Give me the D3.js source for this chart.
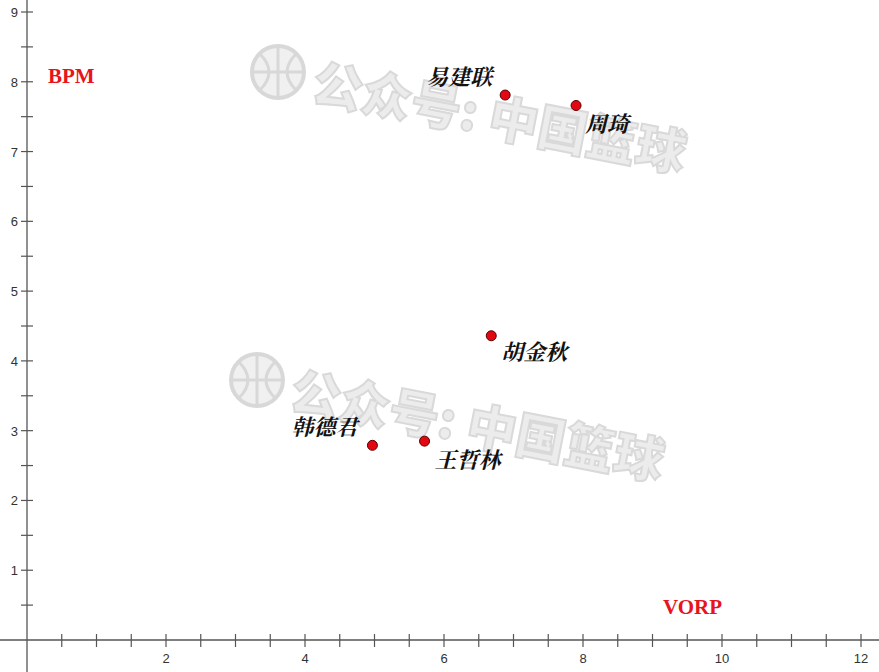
<!DOCTYPE html>
<html><head><meta charset="utf-8">
<script src="https://cdn.jsdelivr.net/npm/d3@7"></script>
<style>body{margin:0;background:#fff}svg{display:block}</style>
</head><body>
<svg id="c" width="879" height="672"></svg>
<script>
const players = ["易建联","周琦","胡金秋","韩德君","王哲林"];
const vorp = [6.88, 7.90, 6.68, 4.97, 5.72];
const bpm = [7.81, 7.66, 4.36, 2.79, 2.85];
const labelDx = [-79, 9, 10, -81, 10];
const labelDy = [-10, 26, 24, -10, 27];
const xTicks = [2,4,6,8,10,12];
const yTicks = [1,2,3,4,5,6,7,8,9];

const svg = d3.select("#c");
const W = 879, H = 672;
const x = d3.scaleLinear().domain([0,12]).range([27, 861]);
const y = d3.scaleLinear().domain([0,9]).range([640, 12]);

function wm(cx, cy, tx, ty){
  const g = svg.append("g");
  g.append("circle").attr("cx",cx).attr("cy",cy).attr("r",26)
    .attr("fill","#f0f0f0").attr("stroke","#d8d8d8").attr("stroke-width",4);
  g.append("path").attr("d",`M${cx-26},${cy} L${cx+26},${cy} M${cx},${cy-26} L${cx},${cy+26} M${cx-18},${cy-18} Q${cx},${cy} ${cx-18},${cy+18} M${cx+18},${cy-18} Q${cx},${cy} ${cx+18},${cy+18}`)
    .attr("fill","none").attr("stroke","#d8d8d8").attr("stroke-width",3);
  g.append("text").attr("transform",`translate(${tx},${ty}) rotate(11)`)
    .attr("font-family","Noto Sans CJK SC").attr("font-weight","900")
    .attr("font-size",50).attr("fill","#ececec").attr("stroke","#d9d9d9").attr("stroke-width",2)
    .text("公众号: 中国篮球");
}
wm(278, 72, 310, 100);
wm(257, 380, 288, 408);

const axisColor = "#555";
svg.append("line").attr("x1",0).attr("x2",W).attr("y1",y(0)).attr("y2",y(0))
  .attr("stroke",axisColor).attr("stroke-width",1.3);
svg.append("line").attr("x1",x(0)).attr("x2",x(0)).attr("y1",0).attr("y2",H)
  .attr("stroke",axisColor).attr("stroke-width",1.3);

const xMinor = d3.range(0.5, 12.6, 0.5);
svg.selectAll(".xt").data(xMinor).join("line")
  .attr("x1",d=>x(d)).attr("x2",d=>x(d)).attr("y1",y(0)-6).attr("y2",y(0)+7)
  .attr("stroke",axisColor).attr("stroke-width",1.2);
const yMinor = d3.range(0.5, 9.6, 0.5);
svg.selectAll(".yt").data(yMinor).join("line")
  .attr("y1",d=>y(d)).attr("y2",d=>y(d)).attr("x1",x(0)-6).attr("x2",x(0)+6)
  .attr("stroke",axisColor).attr("stroke-width",1.2);

svg.selectAll(".xl").data(xTicks).join("text")
  .attr("x",d=>x(d)).attr("y",y(0)+23).attr("text-anchor","middle")
  .attr("font-family","Liberation Sans, Arial").attr("font-size",13).attr("fill","#333")
  .text(d=>d);
svg.selectAll(".yl").data(yTicks).join("text")
  .attr("x",x(0)-9).attr("y",d=>y(d)+5).attr("text-anchor","end")
  .attr("font-family","Liberation Sans, Arial").attr("font-size",13).attr("fill","#333")
  .text(d=>d);

svg.append("text").attr("x",48).attr("y",83).attr("font-family","Liberation Serif, Times New Roman")
  .attr("font-weight","bold").attr("font-size",21).attr("fill","#e8141c").text("BPM");
svg.append("text").attr("x",663).attr("y",614).attr("font-family","Liberation Serif, Times New Roman")
  .attr("font-weight","bold").attr("font-size",21).attr("fill","#e8141c").text("VORP");

const data = players.map((p,i)=>({p, vx:vorp[i], b:bpm[i], dx:labelDx[i], dy:labelDy[i]}));
svg.selectAll(".pt").data(data).join("circle")
  .attr("cx",d=>x(d.vx)).attr("cy",d=>y(d.b)).attr("r",5)
  .attr("fill","#e30613").attr("stroke","#5a0000").attr("stroke-width",1);
svg.selectAll(".lab").data(data).join("text")
  .attr("x",d=>x(d.vx)+d.dx).attr("y",d=>y(d.b)+d.dy)
  .attr("font-family","Noto Serif CJK SC, Noto Sans CJK SC").attr("font-style","italic").attr("font-weight","bold")
  .attr("font-size",22).attr("fill","#111")
  .text(d=>d.p);
</script>
</body></html>
